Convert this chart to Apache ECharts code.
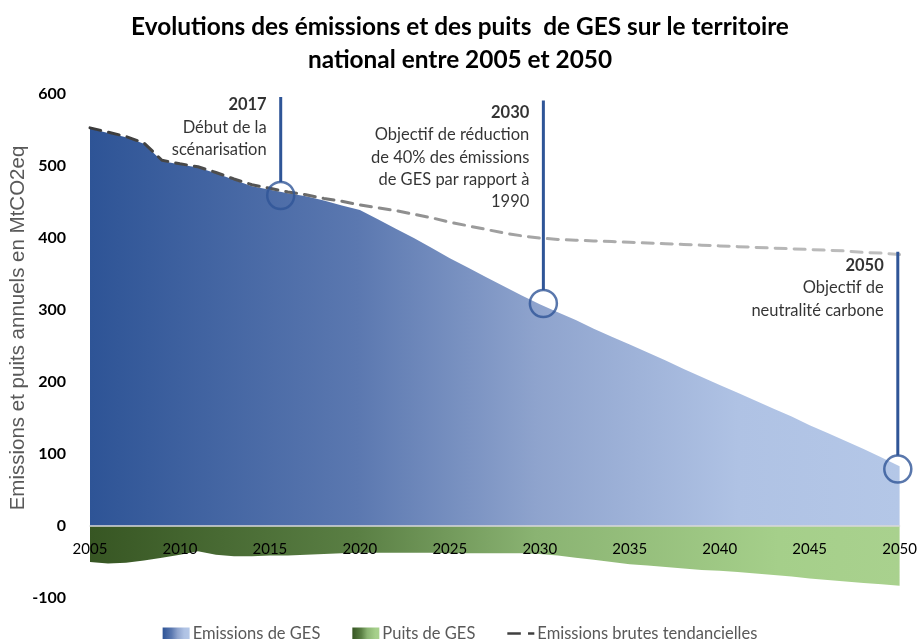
<!DOCTYPE html>
<html><head><meta charset="utf-8">
<script src="https://cdn.jsdelivr.net/npm/echarts@6/dist/echarts.min.js"></script>
<style>html,body{margin:0;padding:0;background:#fff}#c{width:920px;height:639px}</style>
</head><body><div id="c"></div>
<script>
// ---- DATA ----
const years = [2005,2006,2007,2008,2009,2010,2011,2012,2013,2014,2015,2016,2017,2018,2019,2020,2021,2022,2023,2024,2025,2026,2027,2028,2029,2030,2031,2032,2033,2034,2035,2036,2037,2038,2039,2040,2041,2042,2043,2044,2045,2046,2047,2048,2049,2050];
const emissions = [552,546,540,531,507,502,498,490,481,472,467,462,458,452,445,439,426,413,400,386,372,359,346,333,320,308,297,286,274,263,252,241,230,218,207,196,185,174,163,152,140,129,118,107,95,83];
const puits = [-50,-52,-51,-48,-44,-40,-35,-40,-42,-42,-41,-41,-40,-39,-38,-37,-37,-37,-37,-37,-38,-38,-38,-38,-38,-39,-41,-44,-47,-50,-53,-55,-57,-59,-61,-62,-64,-66,-68,-70,-73,-75,-77,-79,-81,-83];
const tendanciel = [553,547,541,532,508,503,499,491,482,474,469,464,460,455,451,446,442,438,433,428,422,417,412,407,403,400,398,397,396,395,394,393,392,391,390,389,388,387,386,385,384,383,382,380,379,377];
const xTickLabels = ['2005','2010','2015','2020','2025','2030','2035','2040','2045','2050'];
const yTickLabels = ['-100','0','100','200','300','400','500','600'];
const annotYears  = [2015.6, 2030.2, 2049.9];
const annotValues = [459, 309, 79];
const annotTops   = [596, 591, 381];
const annotTitles = ['2017', '2030', '2050'];
const annotTexts  = [
  ['Début de la', 'scénarisation'],
  ['Objectif de réduction', 'de 40% des émissions', 'de GES par rapport à', '1990'],
  ['Objectif de', 'neutralité carbone']
];
const seriesNames = ['Emissions de GES', 'Puits de GES', 'Emissions brutes tendancielles'];
const axisTitle = 'Emissions et puits annuels en MtCO2eq';
const chartTitle = 'Evolutions des émissions et des puits  de GES sur le territoire\nnational entre 2005 et 2050';

// ---- STYLE ----
const FONT = 'Lato, "Noto Sans", sans-serif';
const annotColor = '#2f5597';
const circleSize = 27;
const labelDy = [-3, 1, 3];
const grid = {left: 90, right: 17, top: 94, bottom: 41};
const chartH = 639;
const yMin = -100, yMax = 600;
const pxPerUnit = (chartH - grid.top - grid.bottom) / (yMax - yMin);

const lg = (stops) => new echarts.graphic.LinearGradient(0, 0, 1, 0, stops.map(s => ({offset: s[0], color: s[1]})));
const blueGrad = () => lg([[0,'#2e5496'],[0.33,'#5b78b0'],[0.55,'#8ea3cd'],[0.8,'#afc2e4'],[1,'#b4c7e7']]);
const greenGrad = () => lg([[0,'#375623'],[0.33,'#5a7f44'],[0.55,'#8ab372'],[0.85,'#a5cf8a'],[1,'#a9d18e']]);
const grayGrad = () => lg([[0,'#3a3a3a'],[0.22,'#555555'],[0.35,'#8a8a8a'],[0.55,'#a6a6a6'],[1,'#c0c0c0']]);

const pair = (arr) => years.map((y, i) => [y, arr[i]]);

const series = [
  {
    name: seriesNames[0], type: 'line', data: pair(emissions), symbol: 'none',
    lineStyle: {width: 0}, itemStyle: {color: blueGrad()},
    areaStyle: {color: blueGrad(), opacity: 1}, z: 2
  },
  {
    name: seriesNames[1], type: 'line', data: pair(puits), symbol: 'none',
    lineStyle: {width: 0}, itemStyle: {color: greenGrad()},
    areaStyle: {color: greenGrad(), opacity: 1}, z: 2
  },
  {
    name: seriesNames[2], type: 'line', data: pair(tendanciel), symbol: 'none',
    lineStyle: {width: 3, type: [11, 8], cap: 'round', color: grayGrad()},
    itemStyle: {color: '#404040'}, z: 4
  }
];

annotYears.forEach((yr, i) => {
  const bottom = annotValues[i] + (circleSize / 2) / pxPerUnit;
  series.push({
    type: 'line', data: [[yr, annotTops[i]], [yr, bottom]], symbol: 'none',
    lineStyle: {width: 3, color: annotColor}, z: 5, silent: true
  });
});
series.push({
  type: 'scatter', z: 6, silent: true,
  data: annotYears.map((yr, i) => [yr, annotValues[i]]),
  symbol: 'circle', symbolSize: circleSize,
  itemStyle: {color: 'rgba(0,0,0,0)', borderColor: annotColor, borderWidth: 2.5}
});
series.push({
  type: 'scatter', z: 7, silent: true, symbolSize: 0.1,
  itemStyle: {color: 'rgba(0,0,0,0)'},
  data: annotYears.map((yr, i) => ({
    value: [yr, annotTops[i]],
    label: {
      show: true, position: [-14, labelDy[i]], align: 'right', verticalAlign: 'top',
      formatter: '{t|' + annotTitles[i] + '}\n' + annotTexts[i].map(s => '{n|' + s + '}').join('\n'),
      rich: {
        t: {fontFamily: FONT, fontSize: 16.5, fontWeight: 'bold', color: '#000', lineHeight: 22.3, align: 'right'},
        n: {fontFamily: FONT, fontSize: 16.5, color: '#000', lineHeight: 22.3, align: 'right'}
      }
    }
  }))
});

const chart = echarts.init(document.getElementById('c'), null, {renderer: 'canvas'});
chart.setOption({
  animation: false,
  backgroundColor: '#fff',
  title: {
    text: chartTitle, left: 'center', top: 6,
    textStyle: {fontFamily: FONT, fontSize: 24.4, fontWeight: 'bold', color: '#000', lineHeight: 33, align: 'center'}
  },
  grid: grid,
  legend: {
    top: 620, left: 'center', itemWidth: 27, itemHeight: 12, itemGap: 32,
    textStyle: {fontFamily: FONT, fontSize: 16.5, color: '#595959', padding: [0, 0, 0, -2]},
    data: [
      {name: seriesNames[0], icon: 'rect'},
      {name: seriesNames[1], icon: 'rect'},
      {name: seriesNames[2], icon: 'path://M0,0 M30,12 M0,4.5 H15 V7.5 H0 Z M23,4.5 H30 V7.5 H23 Z', itemStyle: {color: '#404040'}}
    ]
  },
  xAxis: {
    type: 'value', min: 2005, max: 2050, interval: 5, z: 3,
    offset: yMin * pxPerUnit,
    axisLine: {onZero: false, lineStyle: {color: '#d9d9d9', width: 1.5}},
    axisTick: {show: false}, splitLine: {show: false},
    axisLabel: {
      margin: 16, fontFamily: FONT, fontSize: 15, color: '#000',
      formatter: (v) => xTickLabels[Math.round((v - 2005) / 5)]
    }
  },
  yAxis: {
    type: 'value', min: yMin, max: yMax, interval: 100,
    axisLine: {show: false}, axisTick: {show: false}, splitLine: {show: false},
    axisLabel: {
      margin: 24, fontFamily: FONT, fontSize: 16, fontWeight: 'bold', color: '#000',
      formatter: (v) => yTickLabels[Math.round((v - yMin) / 100)]
    }
  },
  graphic: [{
    type: 'text', x: 18, y: 328, rotation: Math.PI / 2,
    style: {text: axisTitle, fontFamily: '"Liberation Sans", Arial, sans-serif', fontSize: 20.5, fill: '#595959', align: 'center', verticalAlign: 'middle'}
  }],
  series: series
});
</script></body></html>
